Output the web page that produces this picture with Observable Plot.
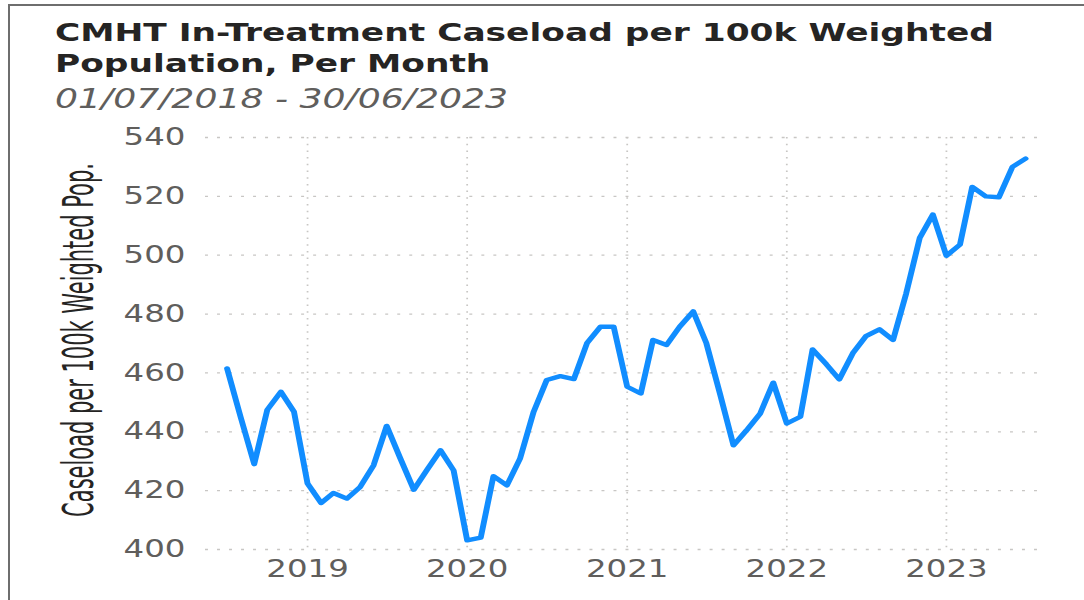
<!DOCTYPE html>
<html>
<head>
<meta charset="utf-8">
<script src="https://cdn.jsdelivr.net/npm/d3@7"></script>
<script src="https://cdn.jsdelivr.net/npm/@observablehq/plot@0.6"></script>
<style>
  html, body { margin: 0; padding: 0; background: #fff; overflow: hidden; }
  #frame { position: absolute; left: 0; top: 0; width: 1084px; height: 600px; overflow: hidden; background: #fff; }
  #border { position: absolute; left: 8px; top: 4px; width: 1200px; height: 700px; border-left: 2px solid #6e6e6e; border-top: 2px solid #6e6e6e; }
  #stretch { position: absolute; left: 0; top: 0; width: 803px; height: 600px; transform: scaleX(1.34994); transform-origin: 0 0; }
  #title { position: absolute; left: 40.7px; top: 17px; font-family: "DejaVu Sans", sans-serif; font-weight: bold; font-size: 25.5px; line-height: 31px; color: #252423; white-space: nowrap; }
  #subtitle { position: absolute; left: 40.7px; top: 84px; font-family: "DejaVu Sans", sans-serif; font-style: italic; font-size: 26.8px; line-height: 30px; color: #605E5C; white-space: nowrap; }
  #ylabel { position: absolute; left: 58.1px; top: 340px; transform: translate(-50%, -50%) rotate(-90deg) scale(0.833, 1.15); font-family: "Liberation Sans Narrow", "DejaVu Sans Condensed", "Liberation Sans", sans-serif; font-size: 28px; color: #252423; white-space: nowrap; }
  #chart { position: absolute; left: 0; top: 120px; }
</style>
</head>
<body>
<div id="frame">
  <div id="border"></div>
  <div id="stretch">
    <div id="title">CMHT In-Treatment Caseload per 100k Weighted<br>Population, Per Month</div>
    <div id="subtitle">01/07/2018 - 30/06/2023</div>
    <div id="ylabel">Caseload per 100k Weighted Pop.</div>
    <div id="chart"></div>
  </div>
</div>
<script>
const months = [
  "2018-07","2018-08","2018-09","2018-10","2018-11","2018-12",
  "2019-01","2019-02","2019-03","2019-04","2019-05","2019-06",
  "2019-07","2019-08","2019-09","2019-10","2019-11","2019-12",
  "2020-01","2020-02","2020-03","2020-04","2020-05","2020-06",
  "2020-07","2020-08","2020-09","2020-10","2020-11","2020-12",
  "2021-01","2021-02","2021-03","2021-04","2021-05","2021-06",
  "2021-07","2021-08","2021-09","2021-10","2021-11","2021-12",
  "2022-01","2022-02","2022-03","2022-04","2022-05","2022-06",
  "2022-07","2022-08","2022-09","2022-10","2022-11","2022-12",
  "2023-01","2023-02","2023-03","2023-04","2023-05","2023-06",
  "2023-07"
];
const caseload = [
  461.5, 445.0, 429.0, 447.5, 453.6, 446.8,
  422.4, 415.8, 419.2, 417.3, 421.2, 428.6,
  442.0, 431.0, 420.3, 427.0, 433.7, 426.9,
  403.1, 404.0, 424.9, 421.8, 430.9, 446.8,
  457.6, 458.9, 457.9, 470.1, 475.7, 475.7,
  455.3, 453.0, 471.2, 469.5, 475.7, 480.9,
  470.1, 453.0, 435.4, 440.5, 446.2, 456.7,
  442.8, 445.1, 468.0, 463.0, 457.8, 466.7,
  472.5, 474.8, 471.2, 487.0, 505.9, 513.8,
  499.8, 503.6, 523.2, 520.0, 519.7, 530.0,
  532.8
];
const yearTicks = ["2019-01-01","2020-01-01","2021-01-01","2022-01-01","2023-01-01"];
const yearLabels = ["2019","2020","2021","2022","2023"];
const yTicks = [400, 420, 440, 460, 480, 500, 520, 540];

const data = months.map((m, i) => ({ date: new Date(m + "-01"), value: caseload[i] }));
const xTicks = yearTicks.map(d => new Date(d));
const S = 1084 / 803;

const chart = Plot.plot({
  width: 803,
  height: 480,
  marginTop: 17,
  marginBottom: 51,
  marginLeft: 205 / S,
  marginRight: 46 / S,
  style: { background: "transparent", fontFamily: "DejaVu Sans, sans-serif", overflow: "visible" },
  x: { type: "utc", domain: [new Date("2018-05-13"), new Date("2023-07-31")] },
  y: { domain: [400, 540] },
  marks: [
    Plot.gridY(yTicks, { stroke: "#c8c6c4", strokeOpacity: 1, strokeDasharray: "2.2,6.7", strokeWidth: 1.3 }),
    Plot.gridX(xTicks, { stroke: "#c8c6c4", strokeOpacity: 1, strokeDasharray: "1.5,5.2", strokeWidth: 1.3 }),
    Plot.axisY(yTicks, { tickSize: 0, tickPadding: 15, fontSize: 24, fill: "#605E5C", label: null }),
    Plot.axisX(xTicks, { tickSize: 0, tickPadding: 10, fontSize: 24, fill: "#605E5C", label: null,
      tickFormat: d => yearLabels[xTicks.findIndex(t => +t === +d)] }),
    Plot.line(data, { x: "date", y: "value", stroke: "#118DFF", strokeWidth: 4.4, strokeLinejoin: "round", strokeLinecap: "round" })
  ]
});
document.getElementById("chart").appendChild(chart);
</script>
</body>
</html>
